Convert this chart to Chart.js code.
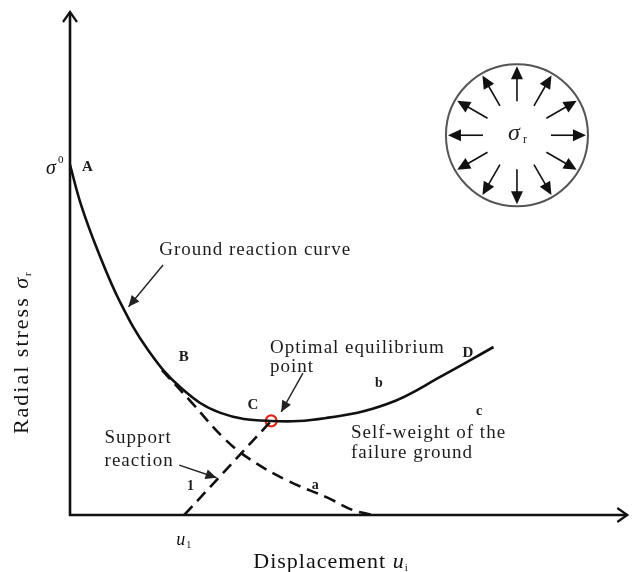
<!DOCTYPE html>
<html>
<head>
<meta charset="utf-8">
<script src="https://cdn.jsdelivr.net/npm/chart.js@4"></script>
<style>
body { margin: 0; background: #fff; }
#wrap { width: 635px; height: 572px; }
</style>
</head>
<body>
<div id="wrap"><canvas id="grcChart" width="635" height="572"></canvas></div>
<script>
// ground reaction curve A -> B -> C -> D (displacement, radial stress)
const grcU = [0, 2, 5, 9, 14, 20, 27, 36, 46, 57, 67, 76];
const grcS = [69.6, 61.6, 52.5, 42.3, 32.8, 25.2, 20.3, 18.7, 19.3, 22.1, 27.8, 33.4];
// dashed branch "a" leaving the curve at B
const dropU = [16.5, 21.4, 27.6, 32.0, 39.1, 46.3, 50.7, 54.3];
const dropS = [28.8, 22.9, 15.3, 11.3, 6.8, 3.4, 1.0, 0];
// support reaction line "1" from u1 to the optimal point
const supportU = [20.5, 36.1];
const supportS = [0, 18.7];
const optimalU = [36.1];
const optimalS = [18.7];

// text labels, placed in data units
const labels = [
  { t: 'A', u: 3.2, s: 69.2, f: 'bold 15px "Liberation Serif"', align: 'center' },
  { t: 'B', u: 20.5, s: 31.4, f: 'bold 15px "Liberation Serif"', align: 'center' },
  { t: 'C', u: 32.9, s: 21.9, f: 'bold 15px "Liberation Serif"', align: 'center' },
  { t: 'D', u: 71.5, s: 32.2, f: 'bold 15px "Liberation Serif"', align: 'center' },
  { t: 'b', u: 55.5, s: 26.2, f: 'bold 14px "Liberation Serif"', align: 'center' },
  { t: 'c', u: 73.5, s: 20.5, f: 'bold 14px "Liberation Serif"', align: 'center' },
  { t: 'a', u: 44.1, s: 5.8, f: 'bold 14px "Liberation Serif"', align: 'center' },
  { t: '1', u: 21.7, s: 5.6, f: 'bold 14px "Liberation Serif"', align: 'center' },
  { t: 'Ground reaction curve', u: 16.0, s: 51.7, f: '19px "Liberation Serif"', align: 'left', base: true },
  { t: 'Optimal equilibrium', u: 35.9, s: 32.2, f: '19px "Liberation Serif"', align: 'left', base: true },
  { t: 'point', u: 35.9, s: 28.4, f: '19px "Liberation Serif"', align: 'left', base: true },
  { t: 'Self-weight of the', u: 50.4, s: 15.3, f: '19px "Liberation Serif"', align: 'left', base: true },
  { t: 'failure ground', u: 50.4, s: 11.3, f: '19px "Liberation Serif"', align: 'left', base: true },
  { t: 'Support', u: 6.2, s: 14.3, f: '19px "Liberation Serif"', align: 'left', base: true },
  { t: 'reaction', u: 6.2, s: 9.7, f: '19px "Liberation Serif"', align: 'left', base: true }
];
// pointer arrows: [fromU, fromS, toU, toS]
const pointers = [
  [16.7, 49.7, 10.5, 41.4],
  [41.8, 28.2, 37.9, 20.5],
  [19.6, 9.9, 26.3, 7.4]
];
const insetCenter = { u: 80.2, s: 75.5 };
const insetAngles = [0, 30, 60, 90, 120, 150, 180, 210, 240, 270, 300, 330];

const toXY = (us, ss) => us.map((u, i) => ({ x: u, y: ss[i] }));

function filledHead(ctx, x1, y1, x2, y2, len, half) {
  const a = Math.atan2(y2 - y1, x2 - x1);
  ctx.beginPath();
  ctx.moveTo(x2, y2);
  ctx.lineTo(x2 - len * Math.cos(a) + half * Math.sin(a), y2 - len * Math.sin(a) - half * Math.cos(a));
  ctx.lineTo(x2 - len * Math.cos(a) - half * Math.sin(a), y2 - len * Math.sin(a) + half * Math.cos(a));
  ctx.closePath();
  ctx.fill();
}

const sketch = {
  id: 'sketch',
  afterDatasetsDraw(chart) {
    const ctx = chart.ctx;
    const xs = chart.scales.x, ys = chart.scales.y;
    const X = v => xs.getPixelForValue(v), Y = v => ys.getPixelForValue(v);
    const area = chart.chartArea;
    ctx.save();

    // axes with open arrow heads
    ctx.strokeStyle = '#111';
    ctx.lineWidth = 2.6;
    ctx.lineCap = 'butt';
    ctx.beginPath();
    ctx.moveTo(X(0), Y(0) + 1);
    ctx.lineTo(X(0), area.top);
    ctx.moveTo(X(0) - 1, Y(0));
    ctx.lineTo(area.right, Y(0));
    ctx.stroke();
    ctx.lineWidth = 2.2;
    ctx.beginPath();
    ctx.moveTo(X(0) - 7, area.top + 10);
    ctx.lineTo(X(0), area.top);
    ctx.lineTo(X(0) + 7, area.top + 10);
    ctx.moveTo(area.right - 10, Y(0) - 7);
    ctx.lineTo(area.right, Y(0));
    ctx.lineTo(area.right - 10, Y(0) + 7);
    ctx.stroke();

    // labels
    ctx.fillStyle = '#1c1c1c';
    ctx.letterSpacing = '1px';
    labels.forEach(l => {
      ctx.font = l.f;
      ctx.textAlign = l.align;
      ctx.textBaseline = l.base ? 'alphabetic' : 'middle';
      ctx.fillText(l.t, X(l.u), Y(l.s));
    });

    // pointer arrows
    ctx.strokeStyle = '#222';
    ctx.fillStyle = '#222';
    ctx.lineWidth = 1.4;
    pointers.forEach(p => {
      const x1 = X(p[0]), y1 = Y(p[1]), x2 = X(p[2]), y2 = Y(p[3]);
      ctx.beginPath();
      ctx.moveTo(x1, y1);
      ctx.lineTo(x2, y2);
      ctx.stroke();
      filledHead(ctx, x1, y1, x2, y2, 11, 5);
    });

    // sigma^0 and u1
    ctx.letterSpacing = '0px';
    ctx.fillStyle = '#111';
    ctx.textBaseline = 'alphabetic';
    ctx.textAlign = 'left';
    ctx.font = 'italic 20px "Liberation Serif"';
    ctx.fillText('σ', X(0) - 24, Y(69.6) + 9);
    ctx.font = '11px "Liberation Serif"';
    ctx.fillText('0', X(0) - 12, Y(69.6) - 2);
    ctx.font = 'italic 18px "Liberation Serif"';
    ctx.fillText('u', X(supportU[0]) - 8, Y(0) + 30);
    ctx.font = '10px "Liberation Serif"';
    ctx.fillText('1', X(supportU[0]) + 2, Y(0) + 33);

    // axis titles
    ctx.letterSpacing = '1px';
    const xt = 'Displacement ';
    ctx.font = '22px "Liberation Serif"';
    const w1 = ctx.measureText(xt).width;
    ctx.font = 'italic 22px "Liberation Serif"';
    const w2 = ctx.measureText('u').width;
    let x0 = 332 - (w1 + w2 + 6) / 2;
    ctx.font = '22px "Liberation Serif"';
    ctx.fillText(xt, x0, 568);
    ctx.font = 'italic 22px "Liberation Serif"';
    ctx.fillText('u', x0 + w1, 568);
    ctx.font = '11px "Liberation Serif"';
    ctx.fillText('i', x0 + w1 + w2, 571);

    ctx.save();
    ctx.translate(28, 352);
    ctx.rotate(-Math.PI / 2);
    ctx.letterSpacing = '2px';
    const yt = 'Radial stress ';
    ctx.font = '22px "Liberation Serif"';
    const v1 = ctx.measureText(yt).width;
    ctx.font = 'italic 22px "Liberation Serif"';
    const v2 = ctx.measureText('σ').width;
    x0 = -(v1 + v2 + 6) / 2;
    ctx.font = '22px "Liberation Serif"';
    ctx.fillText(yt, x0, 0);
    ctx.font = 'italic 22px "Liberation Serif"';
    ctx.fillText('σ', x0 + v1, 0);
    ctx.font = '11px "Liberation Serif"';
    ctx.fillText('r', x0 + v1 + v2, 3);
    ctx.restore();

    // inset: circle with radial stress arrows
    const cx = X(insetCenter.u), cy = Y(insetCenter.s);
    ctx.letterSpacing = '0px';
    ctx.strokeStyle = '#555';
    ctx.lineWidth = 2;
    ctx.beginPath();
    ctx.arc(cx, cy, 71, 0, Math.PI * 2);
    ctx.stroke();
    ctx.strokeStyle = '#111';
    ctx.fillStyle = '#111';
    ctx.lineWidth = 1.6;
    insetAngles.forEach(d => {
      const a = d * Math.PI / 180;
      const x1 = cx + 34 * Math.cos(a), y1 = cy - 34 * Math.sin(a);
      const x2 = cx + 69 * Math.cos(a), y2 = cy - 69 * Math.sin(a);
      ctx.beginPath();
      ctx.moveTo(x1, y1);
      ctx.lineTo(cx + 58 * Math.cos(a), cy - 58 * Math.sin(a));
      ctx.stroke();
      filledHead(ctx, x1, y1, x2, y2, 13, 6);
    });
    ctx.textAlign = 'center';
    ctx.textBaseline = 'middle';
    ctx.font = 'italic 24px "Liberation Serif"';
    ctx.fillStyle = '#222';
    ctx.fillText('σ', cx - 3, cy - 2);
    ctx.font = '12px "Liberation Serif"';
    ctx.fillText('r', cx + 8, cy + 5);
    ctx.restore();
  }
};

new Chart(document.getElementById('grcChart'), {
  type: 'scatter',
  data: {
    datasets: [
      {
        data: toXY(grcU, grcS),
        showLine: true,
        borderColor: '#111',
        borderWidth: 2.6,
        pointRadius: 0,
        tension: 0.4
      },
      {
        data: toXY(dropU, dropS),
        showLine: true,
        borderColor: '#111',
        borderWidth: 2.6,
        borderDash: [12, 7],
        pointRadius: 0,
        tension: 0.4
      },
      {
        data: toXY(supportU, supportS),
        showLine: true,
        borderColor: '#111',
        borderWidth: 2.6,
        borderDash: [12, 7],
        pointRadius: 0
      },
      {
        data: toXY(optimalU, optimalS),
        pointRadius: 5.5,
        pointBorderColor: '#e3241b',
        pointBackgroundColor: 'rgba(0,0,0,0)',
        pointBorderWidth: 2.2
      }
    ]
  },
  options: {
    responsive: false,
    animation: false,
    layout: { padding: { left: 70, right: 3, top: 12, bottom: 57 } },
    scales: {
      x: { type: 'linear', min: 0, max: 100, display: false },
      y: { type: 'linear', min: 0, max: 100, display: false }
    },
    plugins: { legend: { display: false }, tooltip: { enabled: false } }
  },
  plugins: [sketch]
});
</script>
</body>
</html>
